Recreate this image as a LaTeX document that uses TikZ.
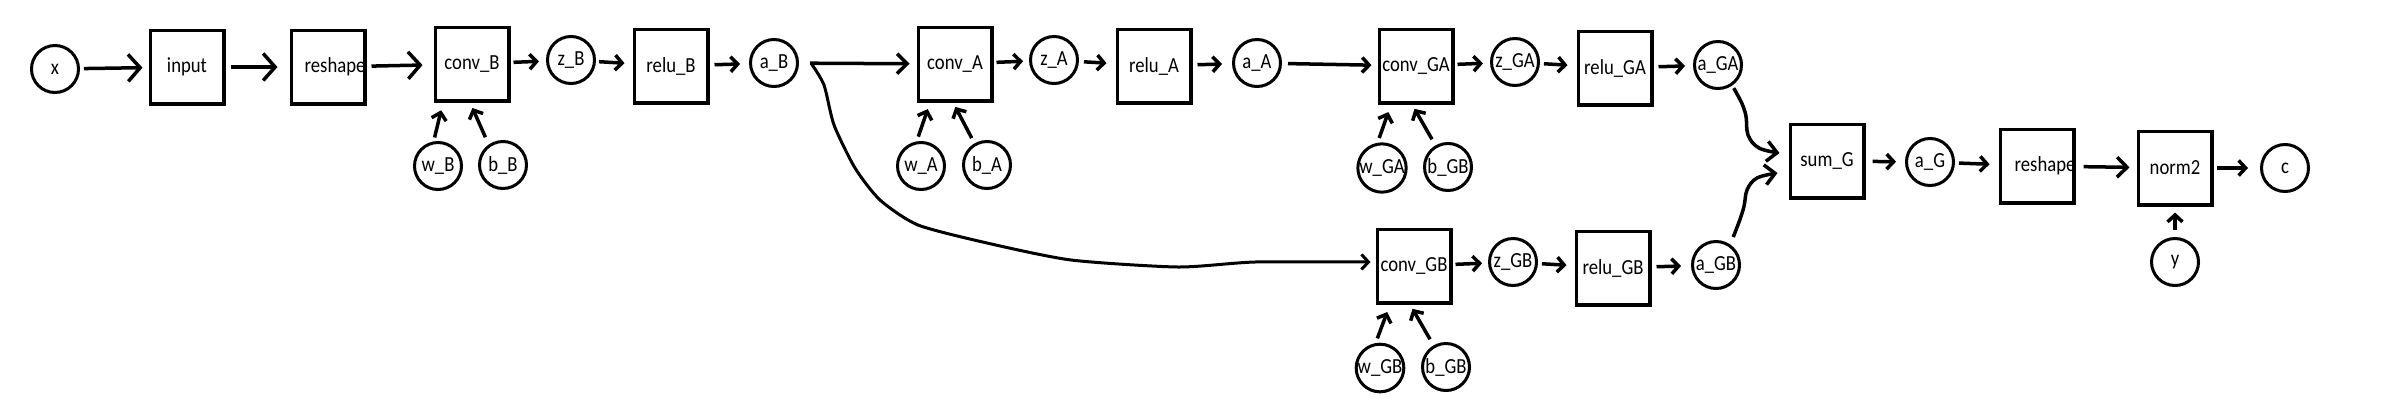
\documentclass[tikz,border=0pt]{standalone}
\usepackage{fontspec}
\setmainfont{Carlito}
\usetikzlibrary{arrows.meta,calc}
\newcommand\lb[1]{\scalebox{1}[1.15]{#1}}
\begin{document}
\begin{tikzpicture}[x=1pt,y=-1pt,
  every node/.style={font=\fontsize{18.7}{22}\selectfont},
  boxn/.style={draw, line width=3.5pt, minimum width=73.5pt, minimum height=73.5pt, inner sep=0pt},
  circ/.style={draw, circle, line width=3pt, minimum size=47pt, inner sep=0pt},
  arr/.style={line width=3.5pt, -{Straight Barb[length=7pt,width=15pt]}},
  midarr/.style={line width=3.5pt, -{Straight Barb[length=10pt,width=20pt]}},
  bigarr/.style={line width=3.5pt, -{Straight Barb[length=12pt,width=27pt]}},
  cut/.style 2 args={shorten <=#1pt, shorten >=#2pt},
]
\fill[white] (0,0) rectangle (2382,408);
\useasboundingbox (0,0) rectangle (2382,408);

% ---- boxes ----
\node[boxn] (input)    at (187,67)  {\lb{input}};
\node[boxn, label={[xshift=7pt]center:\lb{reshape}}] (reshape) at (328,67) {};
\node[boxn] (convB)    at (472,64)  {\lb{conv\_B}};
\node[boxn] (reluB)    at (671,66)  {\lb{relu\_B}};
\node[boxn] (convA)    at (955,64)  {\lb{conv\_A}};
\node[boxn] (reluA)    at (1154,66) {\lb{relu\_A}};
\node[boxn] (convGA)   at (1416,66) {\lb{conv\_GA}};
\node[boxn] (reluGA)   at (1615,68) {\lb{relu\_GA}};
\node[boxn] (convGB)   at (1414,266) {\lb{conv\_GB}};
\node[boxn] (reluGB)   at (1613,268) {\lb{relu\_GB}};
\node[boxn] (sumG)     at (1827,161) {\lb{sum\_G}};
\node[boxn, label={[xshift=8pt]center:\lb{reshape}}] (reshapeB) at (2037,166) {};
\node[boxn] (norm2)    at (2175,168) {\lb{norm2}};

% ---- circles ----
\node[circ] (x)   at (55,69)    {\lb{x}};
\node[circ] (zB)  at (571,60)   {\lb{z\_B}};
\node[circ] (aB)  at (774,63)   {\lb{a\_B}};
\node[circ] (wB)  at (438,166)  {\lb{w\_B}};
\node[circ] (bB)  at (503,165)  {\lb{b\_B}};
\node[circ] (zA)  at (1054,60)  {\lb{z\_A}};
\node[circ] (aA)  at (1257,63)  {\lb{a\_A}};
\node[circ] (wA)  at (921,166)  {\lb{w\_A}};
\node[circ] (bA)  at (987,165)  {\lb{b\_A}};
\node[circ] (zGA) at (1515,62)  {\lb{z\_GA}};
\node[circ] (aGA) at (1718,65)  {\lb{a\_GA}};
\node[circ] (wGA) at (1382,168) {\lb{w\_GA}};
\node[circ] (bGA) at (1448,167) {\lb{b\_GB}};
\node[circ] (zGB) at (1513,262) {\lb{z\_GB}};
\node[circ] (aGB) at (1716,265) {\lb{a\_GB}};
\node[circ] (wGB) at (1380,368) {\lb{w\_GB}};
\node[circ] (bGB) at (1446,367) {\lb{b\_GB}};
\node[circ] (aG)  at (1930,162) {\lb{a\_G}};
\node[circ] (c)   at (2285,168) {\lb{c}};
\node[circ] (y)   at (2175,262) {\lb{y}};

% ---- main chain ----
\draw[bigarr, cut={4}{6}]  (x) -- (input);
\draw[bigarr, cut={5}{12}] (input) -- (reshape);
\draw[bigarr, cut={5}{11}] (reshape) -- (convB);
\draw[arr, cut={3}{7}]  (convB) -- (zB);
\draw[arr, cut={3}{8}]  (zB) -- (reluB);
\draw[arr, cut={5}{9}]  (reluB) -- (aB);
\draw[midarr, cut={11}{7}] (aB) -- (convA);
\draw[arr, cut={3}{6}]  (convA) -- (zA);
\draw[arr, cut={5}{9}]  (zA) -- (reluA);
\draw[arr, cut={5}{10}] (reluA) -- (aA);
\draw[arr, cut={6}{6}]  (aA) -- (convGA);
\draw[arr, cut={3}{7}]  (convGA) -- (zGA);
\draw[arr, cut={4}{9}]  (zGA) -- (reluGA);
\draw[arr, cut={5}{8}]  (reluGA) -- (aGA);
\draw[arr, cut={3}{6}]  (convGB) -- (zGB);
\draw[arr, cut={4}{8}]  (zGB) -- (reluGB);
\draw[arr, cut={5}{10}] (reluGB) -- (aGB);
\draw[arr, cut={7}{9}]  (sumG) -- (aG);
\draw[arr, cut={4}{9}]  (aG) -- (reshapeB);
\draw[midarr, cut={8}{7}] (reshapeB) -- (norm2);
\draw[arr, cut={3}{12}] (norm2) -- (c);
\draw[arr, cut={7}{6}]  (y) -- (norm2);

% ---- weights and biases ----
\draw[arr, cut={4}{8}] (wB.100)  -- ([xshift=-29pt]convB.south);
\draw[arr, cut={8}{6}] (bB.125)  -- ([xshift=-2pt]convB.south);
\draw[arr, cut={5}{7}] (wA.100)  -- ([xshift=-25pt]convA.south);
\draw[arr, cut={6}{5}] (bA.120)  -- ([xshift=-2pt]convA.south);
\draw[arr, cut={5}{8}] (wGA.100) -- ([xshift=-25pt]convGA.south);
\draw[arr, cut={7}{5}] (bGA.120) -- ([xshift=-4pt]convGA.south);
\draw[arr, cut={5}{8}] (wGB.100) -- ([xshift=-24pt]convGB.south);
\draw[arr, cut={7}{5}] (bGB.120) -- ([xshift=-4pt]convGB.south);

% ---- branch a_B -> conv_GB ----
\coordinate (split) at ($(aB.east)+(12,0)$);
\coordinate (gbin) at ([xshift=-5pt,yshift=4pt]convGB.west);
\draw[arr, line width=3pt] plot[smooth, tension=0.4] coordinates {(split) (824,85) (834,125) (855,168) (880,200) (918,225) (987,243) (1071,260) (1178,267) (1255,262) (gbin)};

% ---- into sum_G ----
\coordinate (sinA) at ([xshift=-9pt,yshift=8pt]sumG.west);
\coordinate (sinB) at ([xshift=-11pt,yshift=-12pt]sumG.west);
\draw[midarr, shorten <=3pt] plot[smooth, tension=0.6] coordinates {(aGA.-55) (1745,112) (1748,135) (1759,148) (sinA)};
\draw[midarr, shorten <=8pt] plot[smooth, tension=0.6] coordinates {(aGB.55) (1743,210) (1747,190) (1757,178) (sinB)};
\end{tikzpicture}
\end{document}
